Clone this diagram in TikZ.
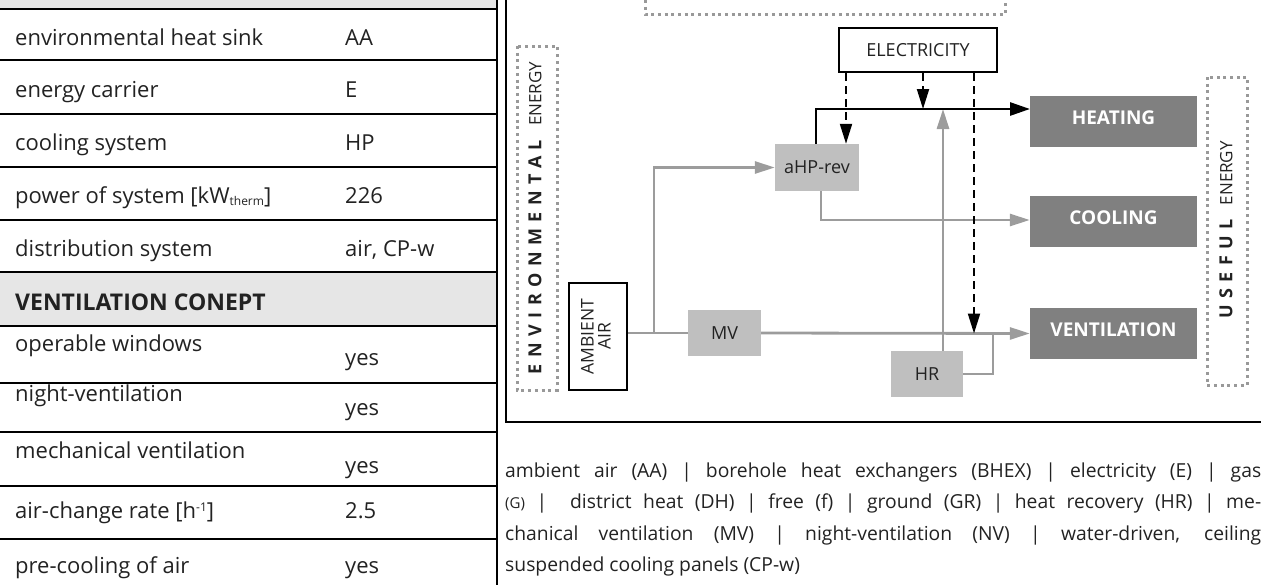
\documentclass[tikz,border=0pt]{standalone}
\usepackage{fontspec}
\setmainfont{Open Sans}
\usepackage{graphicx}
\usetikzlibrary{arrows.meta,calc}
\definecolor{tgray}{HTML}{E6E6E6}
\definecolor{lbox}{HTML}{BFBFBF}
\definecolor{dbox}{HTML}{808080}
\definecolor{lgray}{HTML}{9C9C9C}
\definecolor{dotc}{HTML}{999999}
\definecolor{txt}{HTML}{222222}
\begin{document}
\begin{tikzpicture}[x=1pt,y=-1pt,
  tline/.style={line width=2.6pt,draw=black},
  lbl/.style={anchor=base west,font=\fontsize{22}{26}\selectfont,text=txt,inner sep=0pt},
  hdr/.style={lbl,font=\bfseries\fontsize{23}{27}\selectfont},
  para/.style={anchor=base west,font=\fontsize{19.3}{23}\selectfont,text=txt,inner sep=0pt},
  lightbox/.style={fill=lbox,draw=none,font=\fontsize{18}{22}\selectfont,text=txt,inner sep=0pt},
  darkbox/.style={fill=dbox,draw=none,font=\bfseries\fontsize{19}{23}\selectfont,text=white,inner sep=0pt,minimum width=167pt,minimum height=51pt,text height=13.5pt,text depth=8pt},
  whitebox/.style={fill=white,draw=black,line width=2.2pt,font=\fontsize{18}{22}\selectfont,text=txt,inner sep=0pt},
  grayline/.style={draw=lgray,line width=2.8pt},
  grayarr/.style={grayline,-{Triangle[length=20pt,width=12pt]}},
  blackarr/.style={draw=black,line width=2.8pt,-{Triangle[length=20pt,width=13pt]}},
  dasharr/.style={draw=black,line width=2pt,dash pattern=on 8pt off 5pt,-{Triangle[length=20pt,width=12pt]}},
  dotbox/.style={draw=dotc,line width=3pt,dash pattern=on 3pt off 3.7pt},
  vtext/.style={rotate=90,inner sep=0pt,text=txt,font=\fontsize{17}{20}\selectfont}
]
\useasboundingbox (0,0) rectangle (1261,584);
\clip (0,0) rectangle (1261,584);

% ---------------- table ----------------
\fill[tgray] (-5,-5) rectangle (497,9);
\fill[tgray] (-5,272) rectangle (497,326);
\foreach \yy in {9,60,114,167,220,272,326,383,432,486,539}
  \draw[tline] (-5,\yy) -- (497,\yy);
\draw[tline] (497,-5) -- (497,590);

\node[lbl] (l1) at (15,45) {environmental heat sink};
\node[lbl] (v1) at (345,45) {AA};
\node[lbl] (l2) at (15,97) {energy carrier};
\node[lbl] (v2) at (345,97) {E};
\node[lbl] (l3) at (15,150) {cooling system};
\node[lbl] (v3) at (345,150) {HP};
\node[lbl] (l4) at (15,203) {power of system [kW\raisebox{-2pt}{\fontsize{12}{12}\selectfont therm}]};
\node[lbl] (v4) at (345,203) {226};
\node[lbl] (l5) at (15,256) {distribution system};
\node[lbl] (v5) at (345,256) {air, CP-w};
\node[hdr] (h6) at (15,310) {VENTILATION CONEPT};
\node[lbl] (l7) at (15,351) {operable windows};
\node[lbl] (v7) at (345,365) {yes};
\node[lbl] (l8) at (15,401) {night-ventilation};
\node[lbl] (v8) at (345,415) {yes};
\node[lbl] (l9) at (15,458) {mechanical ventilation};
\node[lbl] (v9) at (345,473) {yes};
\node[lbl] (l10) at (15,518) {air-change rate [h\raisebox{7pt}{\fontsize{12}{12}\selectfont -1}]};
\node[lbl] (v10) at (345,518) {2.5};
\node[lbl] (l11) at (15,573) {pre-cooling of air};
\node[lbl] (v11) at (345,573) {yes};

% ---------------- diagram frame ----------------
\draw[tline] (506,-20) rectangle (1290,422);
\draw[dotbox] (645,-20) rectangle (1005,14);

% dotted side boxes
\draw[dotbox] (517,46) rectangle (557,390);
\node[vtext] (envt) at (535,218) {{\bfseries\fontsize{18}{20}\selectfont\addfontfeature{LetterSpace=36}ENVIRONMENTAL}\hspace{14pt}ENERGY};
\draw[dotbox] (1207,77) rectangle (1247,385);
\node[vtext] (uset) at (1226,230) {{\bfseries\fontsize{18}{20}\selectfont\addfontfeature{LetterSpace=36}USEFUL}\hspace{14pt}ENERGY};

% nodes
\node[whitebox,minimum width=158pt,minimum height=44pt] (elec) at (918,50) {ELECTRICITY};
\node[whitebox,line width=2pt,minimum width=58pt,minimum height=107pt,font=\fontsize{17.5}{21}\selectfont] (amb) at (598,336.5)
  {\rotatebox{90}{\begin{tabular}{@{}c@{}}AMBIENT\\[-4pt]AIR\end{tabular}}};
\node[lightbox,minimum width=84pt,minimum height=47pt] (ahp) at (817,167.5) {aHP-rev};
\node[lightbox,minimum width=73pt,minimum height=46pt] (mv) at (724.5,333) {MV};
\node[lightbox,minimum width=72pt,minimum height=46pt] (hr) at (927,374) {HR};
\node[darkbox] (heat) at (1113.5,121.5) {HEATING};
\node[darkbox] (cool) at (1113.5,221.5) {COOLING};
\node[darkbox] (vent) at (1113.5,333.5) {VENTILATION};

\coordinate (j1) at (654,333);
\coordinate (hin) at (1030,109);

% gray flows
\draw[grayline] (amb.east |- mv.west) -- (mv.west);
\draw[grayarr] (mv.east) -- (vent.west);
\draw[grayarr] (j1) |- (ahp.west);
\draw[grayarr] (ahp.south -| 821,0) |- ([yshift=1.5pt]cool.west);
\draw[grayline] (hr.east) -| (vent.west -| 993,0);
\draw[grayarr] (hr.north -| 943,0) -- (hin -| 943,0);

% heating
\draw[blackarr] (ahp.north -| 816,0) |- (hin);

% electricity
\draw[dasharr] (elec.south -| 846,0) -- (ahp.north -| 846,0);
\draw[dasharr] (elec.south -| 923,0) -- (hin -| 923,0);
\draw[dasharr] (elec.south -| 974,0) -- (vent.west -| 974,0);

% ---------------- legend text ----------------
\node[para] (p1) at (505,477) {\hbox to 756pt{ambient air (AA) | borehole heat exchangers (BHEX) | electricity (E) | gas}};
\node[para] (p2) at (505,508) {\hbox to 756pt{{\fontsize{15}{18}\selectfont(G)} |\ \ district heat (DH) | free (f) | ground (GR) | heat recovery (HR) | me-}};
\node[para] (p3) at (505,540) {\hbox to 756pt{chanical ventilation (MV) | night-ventilation (NV) | water-driven, ceiling}};
\node[para] (p4) at (505,571) {suspended cooling panels (CP-w)};
\end{tikzpicture}
\end{document}
